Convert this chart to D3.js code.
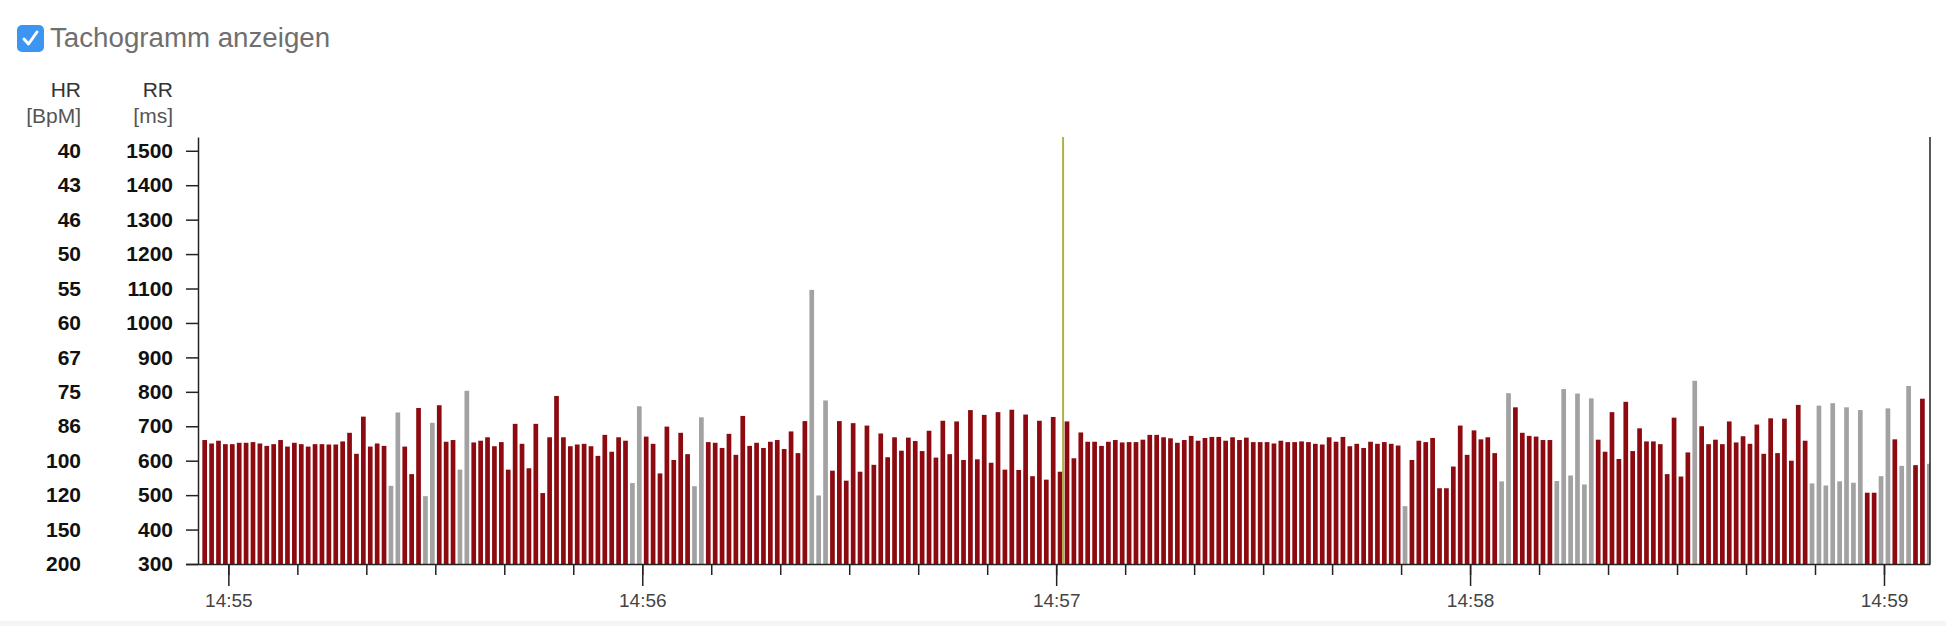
<!DOCTYPE html>
<html>
<head>
<meta charset="utf-8">
<script src="https://cdnjs.cloudflare.com/ajax/libs/d3/7.8.5/d3.min.js"></script>
<style>
  html, body { margin: 0; padding: 0; background: #fff; }
  svg { display: block; }
</style>
</head>
<body>
<div id="chart"></div>
<script>
// RR-Intervalle (ms), ein Balken pro Sekunde
const rrValues = [
  660,650,658,648,648,652,652,654,650,643,648,660,641,652,648,641,648,648,647,647,656,681,620,728,641,650,643,527,740,641,
  561,753,497,710,761,655,660,574,803,653,658,668,642,654,574,707,649,578,707,506,668,788,668,642,647,649,642,614,675,626,668,658,
  535,758,670,649,563,699,602,681,619,526,726,654,652,637,678,617,730,643,652,637,655,660,634,685,622,715,1096,499,775,571,715,542,
  709,568,702,588,679,610,668,629,667,657,628,687,609,716,619,714,602,747,604,733,594,741,574,748,573,734,555,716,545,727,568,714,
  607,682,655,655,643,655,660,653,654,654,661,675,675,668,665,652,660,672,658,666,669,669,658,668,660,667,654,654,654,650,658,654,
  654,656,654,649,647,668,655,669,642,649,637,655,649,654,649,644,468,602,658,654,666,520,520,583,702,617,688,662,668,622,540,796,
  755,681,672,670,660,660,541,808,557,795,531,781,661,626,741,605,771,628,694,656,656,648,561,725,554,624,832,700,648,661,648,714,
  653,671,649,705,620,723,622,722,600,762,658,534,760,528,767,540,755,536,747,507,507,555,752,662,585,817,587,780,591
];

// Artefakte (grau), Index in rrValues
const artifactIdx = [27,28,32,33,37,38,62,63,71,72,88,89,90,174,188,189,196,197,198,199,200,201,
  216,233,234,235,236,237,238,239,240,243,244,246,247,250];

const rrTicks = [300,400,500,600,700,800,900,1000,1100,1200,1300,1400,1500];
const hrTickLabels = ["200","150","120","100","86","75","67","60","55","50","46","43","40"];

const day = [2020, 0, 1];
const timeStart = new Date(...day, 14, 54, 55, 600);
const timeEnd = new Date(...day, 14, 59, 6, 670);
const firstBeat = new Date(...day, 14, 54, 56, 570);
const cursorTime = new Date(...day, 14, 57, 1, 0);

const FONT = "'Liberation Sans', Arial, Helvetica, sans-serif";
const RED = "#8c0a10";
const GREY = "#a2a2a2";

const width = 1946, height = 626;
const plot = { left: 198, right: 1930, top: 137, bottom: 564 };

const svg = d3.select("#chart").append("svg")
  .attr("width", width)
  .attr("height", height);

// unterer grauer Rand
svg.append("rect")
  .attr("x", 0).attr("y", 621)
  .attr("width", width).attr("height", 5)
  .attr("fill", "#f5f5f5");

// Checkbox + Titel
svg.append("rect")
  .attr("x", 17).attr("y", 25)
  .attr("width", 27).attr("height", 27)
  .attr("rx", 5)
  .attr("fill", "#3d95f2");
svg.append("path")
  .attr("d", "M24,39 L28.5,44 L37,32")
  .attr("fill", "none")
  .attr("stroke", "#fff")
  .attr("stroke-width", 3)
  .attr("stroke-linecap", "round")
  .attr("stroke-linejoin", "round");
svg.append("text")
  .attr("x", 50).attr("y", 46.5)
  .attr("font-family", FONT)
  .attr("font-size", "27.7px")
  .attr("fill", "#6f6f6f")
  .text("Tachogramm anzeigen");

const x = d3.scaleTime()
  .domain([timeStart, timeEnd])
  .range([plot.left, plot.right]);

const y = d3.scaleLinear()
  .domain([300, 1540])
  .range([plot.bottom, plot.top]);

// Balken
const step = x(new Date(+firstBeat + 1000)) - x(firstBeat);
const barW = step * 0.68;
const artifacts = new Set(artifactIdx);
const data = rrValues.map((v, i) => ({
  t: new Date(+firstBeat + i * 1000),
  rr: v,
  art: artifacts.has(i)
}));

svg.append("clipPath").attr("id", "plotclip")
  .append("rect")
  .attr("x", plot.left).attr("y", plot.top)
  .attr("width", plot.right - plot.left)
  .attr("height", plot.bottom - plot.top);

svg.append("g")
  .attr("clip-path", "url(#plotclip)")
  .selectAll("rect")
  .data(data)
  .enter().append("rect")
  .attr("x", d => x(d.t) - barW / 2)
  .attr("width", barW)
  .attr("y", d => y(d.rr))
  .attr("height", d => y(300) - y(d.rr))
  .attr("fill", d => d.art ? GREY : RED);

// Cursor
svg.append("line")
  .attr("x1", x(cursorTime)).attr("x2", x(cursorTime))
  .attr("y1", plot.top).attr("y2", plot.bottom)
  .attr("stroke", "#aeb245")
  .attr("stroke-width", 2);

// Achse links (RR)
const yAxis = svg.append("g")
  .attr("transform", `translate(${plot.left},0)`)
  .call(d3.axisLeft(y)
    .tickValues(rrTicks)
    .tickFormat(d3.format("d"))
    .tickSize(12)
    .tickSizeOuter(0)
    .tickPadding(13));
yAxis.select(".domain").attr("stroke", "#222").attr("stroke-width", 1.5);
yAxis.selectAll("line").attr("stroke", "#222").attr("stroke-width", 1.5);
yAxis.selectAll("text")
  .attr("font-family", FONT)
  .attr("font-size", "21px")
  .attr("font-weight", "bold")
  .attr("fill", "#111");

// HR-Beschriftung
svg.append("g").selectAll("text")
  .data(rrTicks)
  .enter().append("text")
  .attr("x", 81)
  .attr("y", d => y(d))
  .attr("dy", "0.34em")
  .attr("text-anchor", "end")
  .attr("font-family", FONT)
  .attr("font-size", "21px")
  .attr("font-weight", "bold")
  .attr("fill", "#111")
  .text((d, i) => hrTickLabels[i]);

// Achsentitel
const heads = [
  { x: 81, lines: ["HR", "[BpM]"] },
  { x: 173, lines: ["RR", "[ms]"] }
];
heads.forEach(h => {
  h.lines.forEach((s, i) => {
    svg.append("text")
      .attr("x", h.x)
      .attr("y", 97 + i * 26)
      .attr("text-anchor", "end")
      .attr("font-family", FONT)
      .attr("font-size", "21px")
      .attr("fill", i === 0 ? "#333" : "#555")
      .text(s);
  });
});

// rechter Rahmen
svg.append("line")
  .attr("x1", plot.right).attr("x2", plot.right)
  .attr("y1", plot.top).attr("y2", plot.bottom)
  .attr("stroke", "#222")
  .attr("stroke-width", 1.5);

// Zeitachse: kleine Striche alle 10 s
const xMinor = svg.append("g")
  .attr("transform", `translate(0,${plot.bottom})`)
  .call(d3.axisBottom(x)
    .ticks(d3.timeSecond.every(10))
    .tickSize(11)
    .tickSizeOuter(0)
    .tickFormat(""));
xMinor.select(".domain").attr("stroke", "#222").attr("stroke-width", 1.5)
  .attr("d", `M${plot.left - 12},0.5H${plot.right + 0.5}`);
xMinor.selectAll("line").attr("stroke", "#222").attr("stroke-width", 1.5);

// Minuten
const xMajor = svg.append("g")
  .attr("transform", `translate(0,${plot.bottom})`)
  .call(d3.axisBottom(x)
    .ticks(d3.timeMinute.every(1))
    .tickSize(22)
    .tickSizeOuter(0)
    .tickPadding(8)
    .tickFormat(d3.timeFormat("%H:%M")));
xMajor.select(".domain").remove();
xMajor.selectAll("line").attr("stroke", "#222").attr("stroke-width", 1.5);
xMajor.selectAll("text")
  .attr("font-family", FONT)
  .attr("font-size", "19px")
  .attr("fill", "#444");
</script>
</body>
</html>
